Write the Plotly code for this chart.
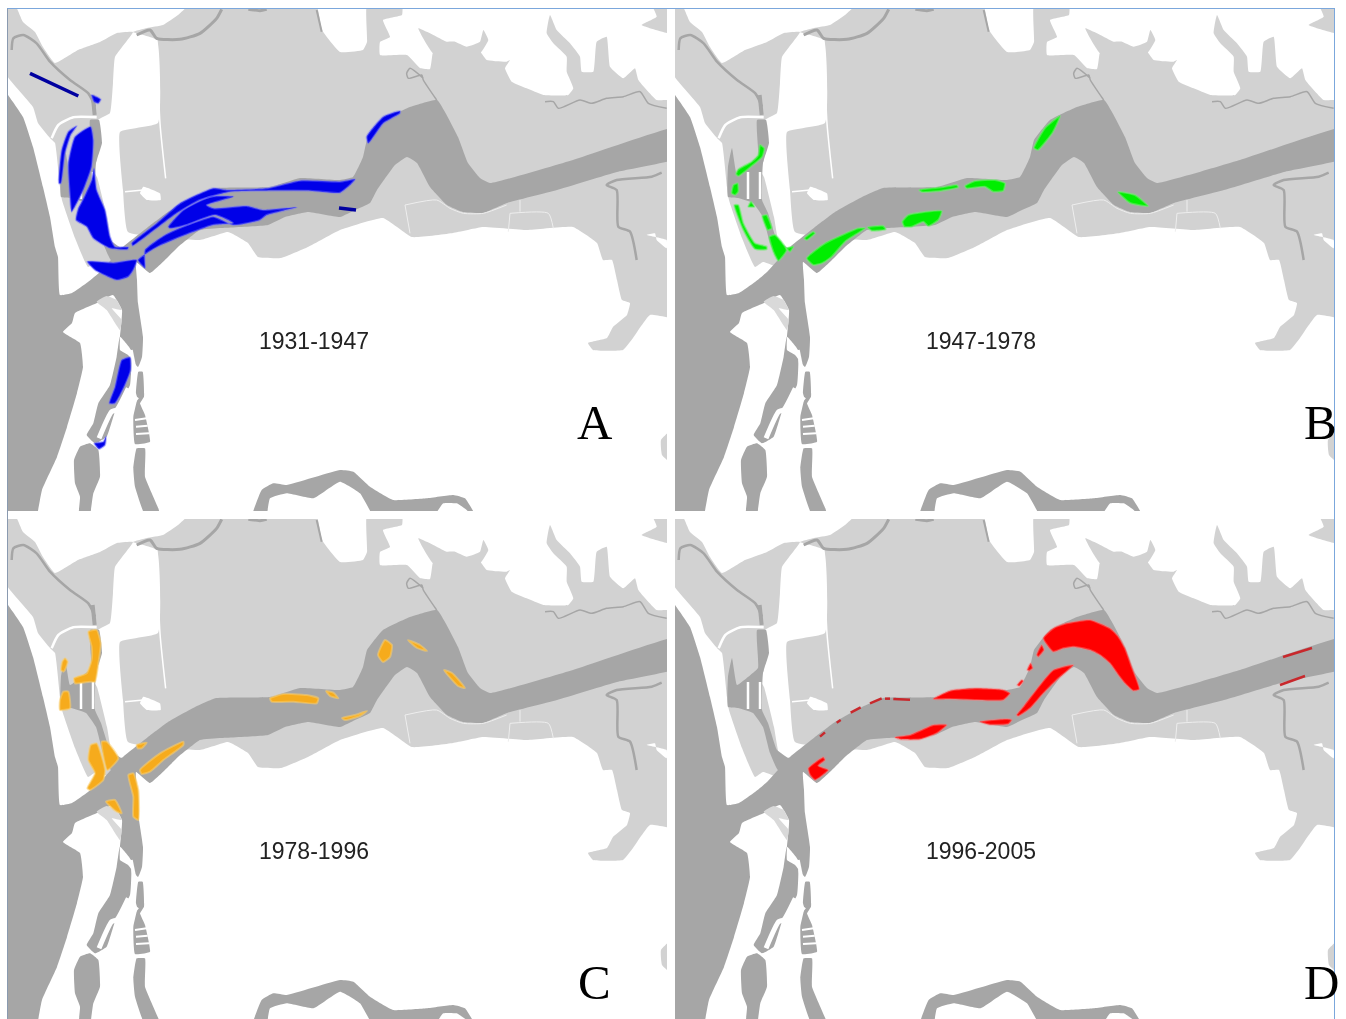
import plotly.graph_objects as go

# ---- map outlines, in map units of panel A ----
def z(pts, ox=0, oy=0):
    return [(ox + a / 3, oy + b / 3) for a, b in pts]

LAND_NE = [(133,32),(147,28),(163,25),(178,15),(190,5),(316,5),(322,30),(340,52),(363,50),(367,42),(367,5),(402,5),(402,15),(383,20),(390,37),(380,42),(380,55),(407,55),(420,68),(430,69),(433,52)] + z([(290,155),(420,155),(440,180),(500,185),(510,180),(495,205),(515,245),(560,265),(610,285),(685,285),(700,265),(680,215),(680,170),(640,130),(620,100),(630,45),(650,90),(690,130),(720,170),(725,215),(760,215),(770,125),(800,110),(810,200),(850,235),(885,205),(895,240),(950,300),(980,300),(1040,300)],340,0) + [(680,318),(650,315),(633,338),(623,350),(593,350),(588,343),(607,338),(613,327),(627,315),(630,303),(622,300),(617,280),(612,260),(603,260),(597,243),(573,227),(527,230),(483,227),(453,233),(412,237),(383,218),(340,230),(308,247),(281,258),(258,257),(248,243),(228,232),(200,240),(128,232),(123,190),(120,132),(158,123),(157,40)]
LAND_BAY = z([(280,160),(235,85),(290,110),(320,125),(345,125),(380,140),(420,125),(430,90),(445,120),(420,160)],340,0)
LAND_CORNER = z([(1040,10),(935,10),(950,50),(905,75),(1040,110)],340,0)
LAND_W = [(0,0),(15,5),(23,22),(35,32),(43,47),(55,63),(78,50),(100,42),(117,33),(133,32),(115,57),(113,83),(110,113),(98,120),(97,160),(93,170),(97,177),(107,217),(113,247),(127,248),(120,270),(96,262),(88,267),(75,238),(62,200),(60,187),(55,143),(50,138),(38,123),(33,107),(10,80),(0,65)]
LAND_EDGE = [(680,423),(661,440),(662,455),(680,470)]
LAND_SPIT = z([(290,125),(320,108),(350,120),(365,150),(335,145),(365,180),(360,210),(320,150)],0,260)
WHITE_BLOB = z([(920,705),(945,700),(950,720),(980,745),(980,720)],340,0)
WHITE_NOTCH = z([(430,560),(480,580),(482,600),(440,600),(420,580)],0,0)

WATER = [(0,85),(8,95),(23,117),(33,147),(43,187),(50,217),(55,247),(58,257),(60,295),(72,293),(88,282),(100,272),(111,260),(123,247),(148,227),(168,212),(195,197),(216,188),(270,187),(300,178),(340,180),(353,177),(363,157),(367,140),(383,120),(410,107),(437,100),(458,137),(468,163),(480,178),(490,183),(573,160),(690,124),(690,155),(617,172),(557,190),(507,203),(483,213),(463,212),(447,205),(430,187),(417,163),(407,157),(395,165),(377,190),(370,203),(355,210),(340,217),(308,212),(285,217),(268,225),(221,228),(200,230),(178,247),(168,257),(150,273),(136,262),(137,280),(138,303),(143,337),(142,357),(138,367),(128,355),(120,350),(120,337),(122,310),(113,295),(97,303),(75,313),(72,323),(63,332),(80,343),(83,367),(77,393),(67,427),(57,457),(42,490),(33,530),(0,530)]
CHANNEL = [(90,120),(99,120),(102,143),(96,163),(95,200),(101,213),(110,240),(123,250),(111,260),(103,243),(96,217),(86,203),(71,198),(61,197),(61,167),(65,148),(70,175),(81,167),(91,158),(90,133)]
HARBOUR_W = z([(360,230),(350,290),(330,375),(295,430),(280,490),(260,525),(285,550),(320,530),(345,455),(390,375),(393,270)],0,260)
HARBOUR_E = z([(415,335),(428,335),(432,410),(420,430),(435,465),(450,545),(405,552),(400,470),(412,415),(408,400)],0,260)
ISLAND = z([(270,550),(295,570),(300,650),(280,700),(265,790),(235,790),(240,710),(225,670),(222,600),(240,560)],0,260)
SOUTH_ARM = z([(410,565),(435,565),(435,650),(475,745),(485,790),(445,790),(405,680),(400,625)],0,260)
LOWER_STREAM = z([(750,790),(785,690),(820,670),(860,675),(1020,630),(1060,635),(1110,680),(1180,720),(1280,715),(1360,705),(1395,715),(1440,790),(1400,750),(1370,730),(1330,730),(1285,790),(1135,790),(1080,700),(1020,665),(940,715),(860,700),(810,715),(795,790)],0,260)

CREEKS = [
    (2.5, z([(35,150),(40,115),(70,105),(110,130),(150,185),(210,240),(265,280),(285,320)])),
    (4.0, z([(278,285),(284,345)])),
    (3.0, z([(410,105),(450,90),(470,115),(540,118),(600,100),(650,55),(665,28)])),
    (3.0, z([(745,28),(780,32),(800,28)])),
    (2.0, z([(950,30),(965,95)])),
    (1.5, z([(290,300),(250,240),(245,225),(205,235),(200,220),(210,205),(250,235)],340,0)),
    (1.5, z([(615,305),(640,305),(655,325),(720,300),(755,310),(800,295),(850,290),(900,275),(925,310),(980,325)],340,0)),
    (2.5, z([(965,518),(935,530),(830,540),(800,555),(830,570),(835,680),(870,695),(890,780)],340,0)),
]
WHITE_LINES = [
    (2.5, z([(155,415),(175,375),(220,352),(290,352)])),
    (1.5, z([(470,120),(480,370),(497,535)])),
    (1.5, z([(375,575),(430,570)])),
    (2.5, [(81,172),(81,199)]),
    (2.5, [(93,172),(93,199)]),
    (5.0, z([(297,535),(335,455),(350,450),(385,385)],0,260)),
    (3.5, z([(393,270),(405,330)],0,260)),
    (3.0, z([(390,442),(413,412)],0,260)),
    (2.0, z([(405,480),(440,475)],0,260)),
    (2.0, z([(408,500),(443,497)],0,260)),
    (2.0, z([(408,522),(447,520)],0,260)),
]
FAINT_LINES = [
    z([(195,615),(210,700)],340,0),
    z([(195,615),(290,600),(330,625),(370,640),(430,640),(500,615)],340,0),
    z([(510,640),(625,640),(640,685)],340,0),
    z([(510,640),(505,695)],340,0),
    z([(540,600),(540,635)],340,0),
]

BLUE_1931 = [
    z([(275,285),(302,298),(295,310),(282,305)]),
    z([(230,378),(205,395),(185,450),(177,550),(183,550),(195,460),(212,405)]),
    z([(272,380),(280,420),(275,500),(250,570),(215,635),(210,590),(205,490),(225,410)]),
    z([(282,505),(290,570),(315,630),(330,710),(345,740),(385,742),(383,748),(330,745),(280,715),(260,680),(228,660),(235,625),(248,600),(275,540)]),
    z([(395,730),(470,670),(540,610),(640,565),(680,570),(800,565),(900,542),(1020,545),(1065,538),(1050,555),(1020,578),(930,572),(800,572),(690,575),(600,600),(530,640),(450,700),(398,737)]),
    z([(505,680),(550,630),(630,590),(700,590),(620,615),(640,625),(740,618),(790,630),(890,622),(850,632),(800,645),(780,660),(700,675),(640,650),(560,675),(510,685)]),
    [(138,260),(157,247),(180,237),(213,225),(233,223),(215,215),(187,225),(165,235),(145,250),(145,268)],
    z([(262,5),(285,30),(350,60),(385,50),(400,30),(410,0),(340,8)],0,260),
    z([(80,410),(130,350),(180,333),(180,340),(130,370),(85,430)],340,0),
    z([(365,300),(390,292),(392,330),(375,375),(345,430),(328,430),(345,380)],0,260),
    z([(283,550),(310,545),(318,530),(315,555),(297,567)],0,260),
]
BLUE_LINES = [z([(90,220),(235,288)]), [(339,208),(356,210)]]

GREEN_1947 = [
    z(p, 8, 100) for p in [
        [(255,135),(268,145),(262,170),(230,198),(190,228),(183,222),(190,208),(230,185),(250,165)],
        [(175,255),(188,250),(190,275),(180,285),(170,280)],
        [(178,315),(190,315),(205,370),(240,430),(275,440),(275,448),(240,447),(205,390)],
        [(220,320),(228,305),(238,320)],
        [(262,348),(275,345),(290,385),(278,390)],
        [(283,410),(300,405),(335,450),(310,482),(295,455)],
        [(335,445),(355,440),(345,455)],
        [(388,415),(415,395),(420,400),(395,420)],
        [(395,475),(450,430),(550,385),(570,385),(510,425),(470,470),(440,490),(415,495)],
        [(578,382),(625,378),(632,388),(590,392)],
        [(682,365),(700,345),(800,333),(790,360),(760,378),(745,365),(710,380),(688,380)],
        [(733,270),(800,262),(845,255),(850,262),(800,272),(740,276)],
        [(870,258),(900,243),(960,240),(990,250),(985,272),(955,275),(930,260),(875,265)],
    ]
] + [[(367,148),(378,128),(393,116),(386,132),(371,150)], [(451,192),(468,195),(481,206),(463,203)]]

ORANGE_1978 = [
    z(p, 0, 110) for p in [
        [(265,35),(290,30),(302,70),(295,130),(285,185),(270,185),(225,190),(222,175),(260,160),(275,120),(275,80)],
        [(195,115),(203,125),(195,150),(190,155),(183,150),(187,125)],
        [(190,215),(205,215),(210,265),(180,270),(180,240)],
        [(272,375),(290,370),(315,450),(310,480),(270,510),(262,505),(285,460),(265,420)],
        [(305,365),(320,365),(355,415),(322,450)],
        [(385,465),(400,460),(415,510),(415,600),(400,590),(400,530)],
        [(318,545),(345,540),(365,580),(350,575)],
        [(410,375),(440,368),(425,385),(413,385)],
        [(420,450),(480,400),(550,365),(550,375),(490,420),(450,455),(425,462)],
        [(810,235),(850,222),(920,225),(955,235),(950,250),(880,245),(815,245)],
        [(978,213),(1000,218),(1015,235),(990,228)],
    ]
] + [[(378,145),(385,130),(392,135),(390,147),(383,152)], [(408,130),(420,135),(427,141),(417,138)], [(444,160),(452,163),(465,178),(458,176)], [(342,208),(355,205),(367,201),(360,206),(345,210)]]

RED_1996 = [
    z(p, 123, 90) for p in [
        [(760,115),(790,85),(830,70),(900,60),(960,85),(985,110),(1005,145),(1025,200),(1048,268),(1030,272),(1005,250),(985,225),(960,190),(930,165),(900,150),(850,140),(820,145),(790,155)],
        [(740,165),(755,135),(762,150),(745,170)],
        [(712,210),(722,190),(728,205),(718,212)],
        [(682,255),(695,240),(700,243),(688,258)],
        [(430,297),(480,272),(560,265),(640,270),(660,280),(640,300),(560,300),(480,297)],
        [(680,345),(700,320),(790,210),(850,195),(800,240),(760,280),(720,325),(685,348)],
        [(570,365),(650,357),(665,360),(655,372),(600,374)],
        [(315,412),(360,405),(430,375),(470,375),(440,400),(390,418),(330,418)],
        [(55,505),(100,472),(105,480),(85,497),(115,510),(75,540),(60,525)],
    ]
]
RED_LINES = [z(p, 123, 90) for p in [
    [(90,410),(105,397)], [(140,368),(152,360)], [(182,338),(212,322)],
    [(240,310),(275,295)], [(285,296),(300,296)], [(310,297),(360,299)],
]] + [[(616,147),(645,138)], [(613,175),(638,166)]]

PERIODS = ["1931-1947", "1947-1978", "1978-1996", "1996-2005"]
LETTERS = ["A", "B", "C", "D"]
PERIOD_POS = [(314, 341)] * 4
LETTER_POS = [(595, 422), (653, 422), (594, 472), (654, 472)]

LAND_COLOUR = "#d2d2d2"
WATER_COLOUR = "#a6a6a6"
OVERLAYS = [
    (BLUE_1931, BLUE_LINES, "#0000e8", "#0000a0", "rgba(110,110,255,0.45)"),
    (GREEN_1947, [], "#00ee00", "#00ee00", "rgba(110,240,110,0.55)"),
    (ORANGE_1978, [], "#f6ab1c", "#f6ab1c", "rgba(250,205,110,0.55)"),
    (RED_1996, RED_LINES, "#ff0000", "#c8282c", "rgba(255,120,120,0.45)"),
]

PANEL_X = [(8, 667), (675, 1334), (8, 667), (675, 1334)]
PANEL_Y = [(9, 511), (9, 511), (519, 1019), (519, 1019)]
W, H = 1346, 1019

fig = go.Figure()

def merged(polys):
    xs, ys = [], []
    for p in polys:
        xs += [a for a, _ in p] + [p[0][0], None]
        ys += [b for _, b in p] + [p[0][1], None]
    return xs, ys

def area(polys, colour, ax, ay, edge=None, ew=0, smooth=0.35):
    xs, ys = merged(polys)
    fig.add_trace(go.Scatter(x=xs, y=ys, xaxis=ax, yaxis=ay, mode="lines", fill="toself", fillcolor=colour,
                             line=dict(color=edge or colour, width=ew, shape="spline", smoothing=smooth),
                             hoverinfo="skip", showlegend=False))

def stroke(pts, colour, width, ax, ay):
    fig.add_trace(go.Scatter(x=[a for a, _ in pts], y=[b for _, b in pts], xaxis=ax, yaxis=ay, mode="lines",
                             line=dict(color=colour, width=width, shape="spline", smoothing=0.6),
                             hoverinfo="skip", showlegend=False))

annotations = []
layout_axes = {}
for i in range(4):
    s = "" if i == 0 else str(i + 1)
    ax, ay = "x" + s, "y" + s
    x0, x1 = PANEL_X[i]
    y0, y1 = PANEL_Y[i]
    layout_axes["xaxis" + s] = dict(domain=[x0 / W, x1 / W], range=[8, 667], visible=False, fixedrange=True)
    layout_axes["yaxis" + s] = dict(domain=[1 - y1 / H, 1 - y0 / H], range=[9 + (y1 - y0), 9], visible=False, fixedrange=True)

    area([LAND_NE, LAND_BAY, LAND_CORNER, LAND_W, LAND_EDGE], LAND_COLOUR, ax, ay)
    area([WHITE_BLOB, WHITE_NOTCH], "#ffffff", ax, ay)
    area([WATER, CHANNEL, HARBOUR_W, HARBOUR_E, ISLAND, SOUTH_ARM, LOWER_STREAM], WATER_COLOUR, ax, ay)
    area([LAND_SPIT], "#d9d9d9", ax, ay)
    for w, pts in CREEKS:
        stroke(pts, WATER_COLOUR, w, ax, ay)
    for pts in FAINT_LINES:
        stroke(pts, "#eeeeee", 1, ax, ay)
    for w, pts in WHITE_LINES:
        stroke(pts, "#ffffff", w, ax, ay)
    polys, lines, fill, dark, halo = OVERLAYS[i]
    area(polys, fill, ax, ay, edge=halo, ew=2, smooth=0.5)
    for pts in lines:
        stroke(pts, dark, 3.5 if i == 0 else 2.5, ax, ay)

    px, py = PERIOD_POS[i]
    annotations.append(dict(x=px, y=py, xref=ax, yref=ay, text=PERIODS[i], showarrow=False,
                            font=dict(family="Liberation Sans", size=23, color="#222222")))
    lx, ly = LETTER_POS[i]
    annotations.append(dict(x=lx, y=ly, xref=ax, yref=ay, text=LETTERS[i], showarrow=False,
                            font=dict(family="Liberation Serif", size=49, color="#000000")))

FRAME = "#7ba7dc"
shapes = [
    dict(type="line", xref="paper", yref="paper", x0=7/W, x1=1335/W, y0=1-8.5/H, y1=1-8.5/H, line=dict(color=FRAME, width=1)),
    dict(type="line", xref="paper", yref="paper", x0=7.5/W, x1=7.5/W, y0=0, y1=1-8.5/H, line=dict(color="#8a9ab0", width=1)),
    dict(type="line", xref="paper", yref="paper", x0=1334.5/W, x1=1334.5/W, y0=0, y1=1-8.5/H, line=dict(color=FRAME, width=1)),
]

fig.update_layout(width=W, height=H, margin=dict(l=0, r=0, t=0, b=0), paper_bgcolor="#ffffff", plot_bgcolor="#ffffff",
                  showlegend=False, annotations=annotations, shapes=shapes, **layout_axes)
fig.write_html("out.html", config={"displayModeBar": False, "responsive": False},
               post_script="document.body.style.margin='0';document.body.style.overflow='hidden';"
                           "document.querySelectorAll('.main-svg').forEach(function(s){s.style.filter='blur(0.6px)';});")
